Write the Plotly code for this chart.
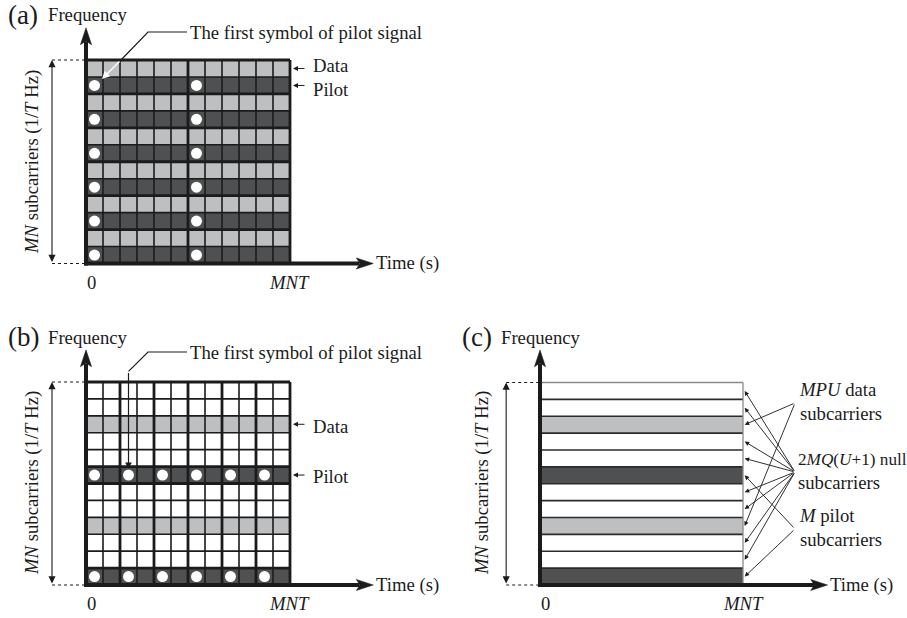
import plotly.graph_objects as go

W, H = 907, 618
FONT = "Liberation Serif"
INK = "#1b1b1b"
WHITE, LIGHT, DARK = "#ffffff", "#bdbfc1", "#4e5052"
FS = 18.7          # body text size
FS_TAG = 27        # panel tag size

N = 12  # subcarrier rows and symbol columns per grid

# Cell type of each row, listed from the lowest row upwards: 0 empty, 1 data, 2 pilot
rows_a = [2, 1] * 6
rows_b = [2, 0, 0, 1, 0, 0] * 2
rows_c = [2, 0, 0, 1, 0, 0] * 2

# Columns carrying a pilot symbol inside each pilot row
pilot_cols_a = [0, 6]
pilot_cols_b = [0, 2, 4, 6, 8, 10]

# Grid separators (thin / thick)
v_thin_a, v_thick_a = [1, 2, 3, 4, 5, 7, 8, 9, 10, 11], [6, 12]
h_thin_a, h_thick_a = [1, 3, 5, 7, 9, 11], [2, 4, 6, 8, 10, 12]
v_thin_b, v_thick_b = [1, 3, 5, 7, 9, 11], [2, 4, 6, 8, 10, 12]
h_thin_b, h_thick_b = [2, 3, 4, 5, 8, 9, 10, 11], [1, 6, 7, 12]
h_lines_c = list(range(1, 12))

# Panel boxes and grid boxes on the page (left, right, top, bottom)
PANELS = {
    "a": dict(box=(0, 450, 0, 300), grid=(86, 290, 60, 263.5), ax=("x", "y")),
    "b": dict(box=(0, 450, 300, 618), grid=(86, 290, 382, 585), ax=("x2", "y2")),
    "c": dict(box=(450, 907, 300, 618), grid=(540, 743, 382.5, 585), ax=("x3", "y3")),
}

fig = go.Figure()
layout_axes = {}
for key, p in PANELS.items():
    bx0, bx1, by0, by1 = p["box"]
    gx0, gx1, gyt, gyb = p["grid"]
    ux, uy = (gx1 - gx0) / N, (gyb - gyt) / N
    xa, ya = p["ax"]
    xname = "xaxis" + xa[1:]
    yname = "yaxis" + ya[1:]
    layout_axes[xname] = dict(domain=[bx0 / W, bx1 / W],
                              range=[(bx0 - gx0) / ux, (bx1 - gx0) / ux],
                              visible=False, fixedrange=True, anchor=ya)
    layout_axes[yname] = dict(domain=[1 - by1 / H, 1 - by0 / H],
                              range=[(gyb - by1) / uy, (gyb - by0) / uy],
                              visible=False, fixedrange=True, anchor=xa)


def to_data(key, px, py):
    gx0, gx1, gyt, gyb = PANELS[key]["grid"]
    ux, uy = (gx1 - gx0) / N, (gyb - gyt) / N
    return (px - gx0) / ux, (gyb - py) / uy


def lines(key, xs, ys, width, color=INK, dash=None):
    xa, ya = PANELS[key]["ax"]
    fig.add_trace(go.Scatter(x=xs, y=ys, mode="lines", xaxis=xa, yaxis=ya,
                             line=dict(color=color, width=width, dash=dash),
                             hoverinfo="skip", showlegend=False))


def grid_lines(key, v_idx, h_idx, width, color=INK):
    xs, ys = [], []
    for c in v_idx:
        xs += [c, c, None]
        ys += [0, N, None]
    for r in h_idx:
        xs += [0, N, None]
        ys += [r, r, None]
    if xs:
        lines(key, xs, ys, width, color)


def cells(key, row_types):
    xa, ya = PANELS[key]["ax"]
    fig.add_trace(go.Heatmap(
        z=[[t] * N for t in row_types],
        x=[c + 0.5 for c in range(N)], y=[r + 0.5 for r in range(N)],
        zmin=0, zmax=2, showscale=False, hoverinfo="skip", xaxis=xa, yaxis=ya,
        colorscale=[[0, WHITE], [0.25, WHITE], [0.25, LIGHT], [0.75, LIGHT],
                    [0.75, DARK], [1, DARK]]))


def pilots(key, row_types, cols):
    xa, ya = PANELS[key]["ax"]
    xs, ys = [], []
    for r, t in enumerate(row_types):
        if t == 2:
            for c in cols:
                xs.append(c + 0.5)
                ys.append(r + 0.5)
    fig.add_trace(go.Scatter(x=xs, y=ys, mode="markers", xaxis=xa, yaxis=ya,
                             marker=dict(color=WHITE, size=11, line=dict(width=0)),
                             hoverinfo="skip", showlegend=False))


def head(key, tx, ty, direction, L=1.0, h=0.33, notch=0.22):
    xa, ya = PANELS[key]["ax"]
    if direction == "right":
        xs = [tx, tx - L, tx - L + notch, tx - L, tx]
        ys = [ty, ty + h, ty, ty - h, ty]
    else:
        xs = [tx, tx + h, tx, tx - h, tx]
        ys = [ty, ty - L, ty - L + notch, ty - L, ty]
    fig.add_trace(go.Scatter(x=xs, y=ys, mode="lines", fill="toself", fillcolor=INK,
                             line=dict(color=INK, width=0.5), xaxis=xa, yaxis=ya,
                             hoverinfo="skip", showlegend=False))


def axes_frame(key, x_tip, y_tip):
    lines(key, [0, 0], [-0.12, y_tip - 0.8], 4)
    lines(key, [-0.12, x_tip - 0.8], [0, 0], 4)
    head(key, 0, y_tip, "up")
    head(key, x_tip, 0, "right")


annots = []


def arrow(key, x0, y0, x1, y1, width=1.0, color=INK, size=1.0, both=False, headstyle=2):
    xa, ya = PANELS[key]["ax"]
    annots.append(dict(x=x1, y=y1, ax=x0, ay=y0, xref=xa, yref=ya, axref=xa, ayref=ya,
                       text="", showarrow=True, arrowhead=headstyle, arrowsize=size,
                       arrowwidth=width, arrowcolor=color,
                       arrowside="end+start" if both else "end",
                       startarrowhead=headstyle, startarrowsize=size))


def text(px, py, s, size=FS, xanchor="left", angle=0):
    annots.append(dict(x=px / W, y=1 - py / H, xref="paper", yref="paper", text=s,
                       showarrow=False, xanchor=xanchor, yanchor="middle",
                       align="left", textangle=angle, borderpad=0,
                       font=dict(size=size, color=INK, family=FONT)))


def dimension(key):
    # double arrow spanning the band, with dotted extension lines
    arrow(key, -2, 0, -2, N, width=1.1, size=1.3, both=True)
    lines(key, [-2, 0, None, -2, 0], [0, 0, None, N, N], 1.1, dash="dot")


Y_LABEL = "<i>MN</i> subcarriers (1/<i>T</i> Hz)"

# ---------------- (a) ----------------
cells("a", rows_a)
grid_lines("a", v_thin_a, h_thin_a, 1.6)
grid_lines("a", v_thick_a, h_thick_a, 2.8)
pilots("a", rows_a, pilot_cols_a)
axes_frame("a", 16.9, 13.9)
dimension("a")
p1 = to_data("a", 187, 32)
p2 = to_data("a", 148, 32)
p3 = to_data("a", 121, 60)
p4 = to_data("a", 102, 79)
lines("a", [p1[0], p2[0], p3[0]], [p1[1], p2[1], p3[1]], 1.2)
arrow("a", p3[0], p3[1], p4[0], p4[1], width=1.4, color=WHITE, size=1.1)
for yy in (11.5, 10.5):
    a0 = to_data("a", 306, 0)[0]
    a1 = to_data("a", 293, 0)[0]
    arrow("a", a0, yy, a1, yy, width=1.0, size=1.0)

text(23, 15, "(a)", FS_TAG, "center")
text(47, 15, "Frequency")
text(189, 32, "The first symbol of pilot signal")
text(312, 78, "Data<br>Pilot")
text(32, 162, Y_LABEL, xanchor="center", angle=-90)
text(91, 282, "0", xanchor="center")
text(289, 282, "<i>MNT</i>", xanchor="center")
text(375, 263, "Time (s)")

# ---------------- (b) ----------------
cells("b", rows_b)
grid_lines("b", v_thin_b, h_thin_b, 1.6)
grid_lines("b", v_thick_b, h_thick_b, 2.8)
pilots("b", rows_b, pilot_cols_b)
axes_frame("b", 16.9, 13.9)
dimension("b")
q1 = to_data("b", 187, 352)
q2 = to_data("b", 148, 352)
q3 = (2.5, q2[1] - (q2[0] - 2.5))
lines("b", [q1[0], q2[0], q3[0]], [q1[1], q2[1], q3[1]], 1.2)
arrow("b", q3[0], q3[1], 2.5, 6.85, width=1.2, size=1.1)
for yy in (9.5, 6.5):
    a0 = to_data("b", 306, 0)[0]
    a1 = to_data("b", 293, 0)[0]
    arrow("b", a0, yy, a1, yy, width=1.0, size=1.0)

text(23, 337, "(b)", FS_TAG, "center")
text(47, 337, "Frequency")
text(189, 352, "The first symbol of pilot signal")
text(312, 426, "Data")
text(312, 476, "Pilot")
text(32, 483, Y_LABEL, xanchor="center", angle=-90)
text(91, 603, "0", xanchor="center")
text(289, 603, "<i>MNT</i>", xanchor="center")
text(375, 585, "Time (s)")

# ---------------- (c) ----------------
cells("c", rows_c)
grid_lines("c", [], h_lines_c, 1.6, "#2b2b2b")
grid_lines("c", [N], [N], 1.3, "#8a8a8a")
axes_frame("c", 17.0, 13.93)
dimension("c")

src_data = to_data("c", 795, 403)
src_null = to_data("c", 795, 472)
src_pilot = to_data("c", 795, 529)
tip_x = 12.1
for r, t in enumerate(rows_c):
    src = {0: src_null, 1: src_data, 2: src_pilot}[t]
    arrow("c", src[0], src[1], tip_x, r + 0.5, width=0.9, size=1.0)

text(477, 337, "(c)", FS_TAG, "center")
text(500, 337, "Frequency")
text(482, 483, Y_LABEL, xanchor="center", angle=-90)
text(545, 603, "0", xanchor="center")
text(743, 603, "<i>MNT</i>", xanchor="center")
text(829, 585, "Time (s)")
text(798, 401, "<i>MPU</i> data<br>subcarriers")
text(797, 471, "<span style='font-size:17.2px'>2<i>MQ</i>(<i>U</i>+1) null</span>"
               "<br>subcarriers")
text(798, 527.5, "<i>M</i> pilot<br>subcarriers")

fig.update_layout(width=W, height=H, margin=dict(l=0, r=0, t=0, b=0),
                  paper_bgcolor="white", plot_bgcolor="white",
                  font=dict(family=FONT, size=FS, color=INK),
                  annotations=annots, showlegend=False, **layout_axes)

fig.write_html("out.html", config={"displayModeBar": False})
